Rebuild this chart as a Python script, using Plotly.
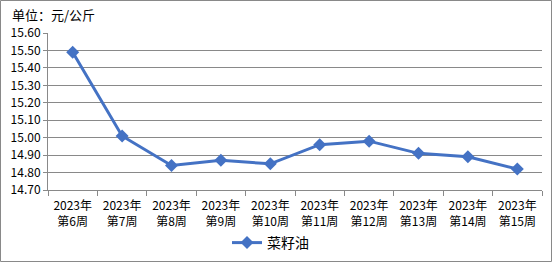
import plotly.graph_objects as go

weeks = ["第6周", "第7周", "第8周", "第9周", "第10周", "第11周", "第12周", "第13周", "第14周", "第15周"]
year_label = "2023年"
categories = [f"{year_label}<br>{w}" for w in weeks]
values = [15.49, 15.01, 14.84, 14.87, 14.85, 14.96, 14.98, 14.91, 14.89, 14.82]
series_name = "菜籽油"
y_ticks = [14.70, 14.80, 14.90, 15.00, 15.10, 15.20, 15.30, 15.40, 15.50, 15.60]

W, H = 552, 262
L, R, T, B = 48, 10, 33, 72
pw, ph = W - L - R, H - T - B

def px_x(p):
    return (p - L) / pw

def px_y(p):
    return (H - B - p) / ph

font = "Noto Sans CJK SC, SimSun, sans-serif"

fig = go.Figure()
fig.add_trace(go.Scatter(
    x=categories, y=values, name=series_name, mode="lines+markers",
    line=dict(color="#4472C4", width=3),
    marker=dict(symbol="diamond", size=10, color="#4472C4"),
))

fig.update_layout(
    width=W, height=H,
    margin=dict(l=L, r=R, t=T, b=B, autoexpand=False),
    paper_bgcolor="white", plot_bgcolor="white",
    font=dict(family=font, size=12, color="#000000"),
    showlegend=True,
    legend=dict(orientation="h", x=px_x(227), xanchor="left",
                yref="container", y=1 - 243 / H, yanchor="middle",
                font=dict(size=14, family=font)),
    xaxis=dict(type="category", range=[-0.5, len(categories) - 0.5],
               tickson="boundaries", ticks="outside", ticklen=5, ticklabelstandoff=5,
               tickcolor="#898989", showline=True, linecolor="#898989", linewidth=1,
               showgrid=False, tickfont=dict(size=12), automargin=False, fixedrange=True),
    yaxis=dict(range=[14.70, 15.60], tickvals=y_ticks,
               ticktext=[f"{v:.2f}" for v in y_ticks],
               ticks="outside", ticklen=4, tickcolor="#898989",
               showline=True, linecolor="#898989", linewidth=1,
               showgrid=True, gridcolor="#898989", gridwidth=1,
               zeroline=False, tickfont=dict(size=12), automargin=False),
    annotations=[dict(text="单位：元/公斤", xref="paper", yref="paper",
                      x=px_x(10), y=px_y(14), xanchor="left", yanchor="middle",
                      showarrow=False, font=dict(size=13, family=font))],
    shapes=[dict(type="rect", xref="paper", yref="paper",
                 x0=px_x(0.5), x1=px_x(551.5), y0=px_y(261.5), y1=px_y(0.5),
                 line=dict(color="#898989", width=1), layer="below")],
)

fig.write_html("out.html")
